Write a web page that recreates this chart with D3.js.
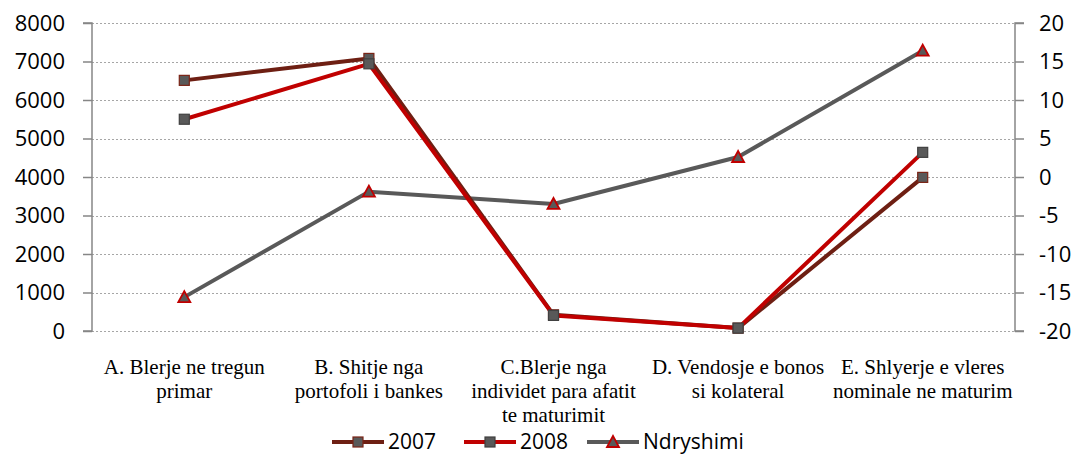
<!DOCTYPE html>
<html>
<head>
<meta charset="utf-8">
<script src="https://cdn.jsdelivr.net/npm/d3@7"></script>
<style>
  body { margin: 0; background: #fff; }
  svg { display: block; }
</style>
</head>
<body>
<svg id="chart" width="1078" height="454"></svg>
<script>
const categories = [
  "A. Blerje ne tregun primar",
  "B. Shitje nga portofoli i bankes",
  "C.Blerje nga individet para afatit te maturimit",
  "D. Vendosje e bonos si kolateral",
  "E. Shlyerje e vleres nominale ne maturim"
];
const categoryLines = [
  ["A. Blerje ne tregun", "primar"],
  ["B. Shitje nga", "portofoli i bankes"],
  ["C.Blerje nga", "individet para afatit", "te maturimit"],
  ["D. Vendosje e bonos", "si kolateral"],
  ["E. Shlyerje e vleres", "nominale ne maturim"]
];
const values2007 = [6510, 7080, 420, 75, 3990];
const values2008 = [5500, 6940, 405, 75, 4640];
const ndryshimi = [-15.6, -1.9, -3.5, 2.6, 16.4];
const leftTicks = [0, 1000, 2000, 3000, 4000, 5000, 6000, 7000, 8000];
const rightTicks = [-20, -15, -10, -5, 0, 5, 10, 15, 20];

const sansFont = "Open Sans, Noto Sans, sans-serif";
const serifFont = "Liberation Serif, DejaVu Serif, serif";

const svg = d3.select("#chart");
const margin = { top: 23, left: 92, right: 63, bottom: 123 };
const width = 1078 - margin.left - margin.right,
  height = 454 - margin.top - margin.bottom;

const x = d3.scaleBand().domain(categories).range([0, width]);
const yL = d3.scaleLinear().domain([0, 8000]).range([height, 0]);
const yR = d3.scaleLinear().domain([-20, 20]).range([height, 0]);

const g = svg.append("g").attr("transform", `translate(${margin.left},${margin.top})`);

// gridlines
g.append("g")
  .selectAll("line")
  .data(leftTicks)
  .enter()
  .append("line")
  .attr("x1", 0)
  .attr("x2", width)
  .attr("y1", d => Math.round(yL(d)) + 0.5)
  .attr("y2", d => Math.round(yL(d)) + 0.5)
  .attr("stroke", "#a6a6a6")
  .attr("stroke-width", 1)
  .attr("stroke-dasharray", "2,2");

const axisColor = "#868686";
// left axis
const left = g.append("g")
  .call(d3.axisLeft(yL).tickValues(leftTicks).tickSize(9).tickPadding(18).tickFormat(d3.format("d")));
left.attr("font-family", sansFont).attr("font-size", 22);
left.select(".domain").attr("stroke", axisColor).attr("stroke-width", 1.5).attr("d", `M-9,${height}H0V0H-9`);
left.selectAll(".tick line").attr("stroke", axisColor).attr("stroke-width", 1.5);
left.selectAll(".tick text").attr("fill", "#000");

// right axis
const right = g.append("g")
  .attr("transform", `translate(${width},0)`)
  .call(d3.axisRight(yR).tickValues(rightTicks).tickSize(9).tickPadding(15).tickFormat(d3.format("d")));
right.attr("font-family", sansFont).attr("font-size", 22);
right.select(".domain").attr("stroke", axisColor).attr("stroke-width", 1.5).attr("d", `M9,${height}H0V0H9`);
right.selectAll(".tick line").attr("stroke", axisColor).attr("stroke-width", 1.5);
right.selectAll(".tick text").attr("fill", "#000").text(d => String(d));

// category labels
const cat = g.append("g")
  .attr("font-family", serifFont)
  .attr("font-size", 21)
  .selectAll("text")
  .data(categories)
  .enter()
  .append("text")
  .attr("fill", "#000")
  .attr("text-anchor", "middle")
  .attr("x", d => x(d) + x.bandwidth() / 2)
  .attr("y", height + 43);
cat.each(function(d, i) {
  const t = d3.select(this);
  categoryLines[i].forEach((line, j) => {
    t.append("tspan")
      .attr("x", x(d) + x.bandwidth() / 2)
      .attr("dy", j === 0 ? 0 : 24)
      .text(line);
  });
});

const series = [
  { name: "2007", values: values2007, scale: yL, color: "#6e1f13", marker: "square", mstroke: "#7a2416" },
  { name: "2008", values: values2008, scale: yL, color: "#c00000", marker: "square", mstroke: "#404040" },
  { name: "Ndryshimi", values: ndryshimi, scale: yR, color: "#595959", marker: "triangle", mstroke: "#c00000" }
];

const cx = d => x(d) + x.bandwidth() / 2;
const drawMarker = (sel, s, px, py) => {
  if (s.marker === "square") {
    sel.append("rect")
      .attr("x", px - 5).attr("y", py - 5)
      .attr("width", 10).attr("height", 10)
      .attr("fill", "#595959")
      .attr("stroke", s.mstroke)
      .attr("stroke-width", 1.2);
  } else {
    sel.append("path")
      .attr("d", `M${px},${py - 6}L${px + 6},${py + 5}L${px - 6},${py + 5}Z`)
      .attr("fill", "#595959")
      .attr("stroke", s.mstroke)
      .attr("stroke-width", 1.8);
  }
};

// draw in order: Ndryshimi first, then 2007, then 2008
[series[2], series[0], series[1]].forEach(s => {
  const line = d3.line()
    .x((d, i) => cx(categories[i]))
    .y(d => s.scale(d));
  g.append("path")
    .datum(s.values)
    .attr("fill", "none")
    .attr("stroke", s.color)
    .attr("stroke-width", 4)
    .attr("stroke-linejoin", "round")
    .attr("d", line);
});
[series[2], series[0], series[1]].forEach(s => {
  const mg = g.append("g");
  s.values.forEach((v, i) => drawMarker(mg, s, cx(categories[i]), s.scale(v)));
});

// legend
const legendItems = [
  { s: series[0], x: 332 },
  { s: series[1], x: 464 },
  { s: series[2], x: 587 }
];
const lg = svg.append("g").attr("font-family", sansFont).attr("font-size", 21);
legendItems.forEach(item => {
  const ly = 442;
  lg.append("line")
    .attr("x1", item.x).attr("x2", item.x + 52)
    .attr("y1", ly).attr("y2", ly)
    .attr("stroke", item.s.color)
    .attr("stroke-width", 4);
  drawMarker(lg, item.s, item.x + 26, ly);
  lg.append("text")
    .attr("fill", "#000")
    .attr("x", item.x + 56)
    .attr("y", ly)
    .attr("dy", "0.35em")
    .text(item.s.name);
});
</script>
</body>
</html>
